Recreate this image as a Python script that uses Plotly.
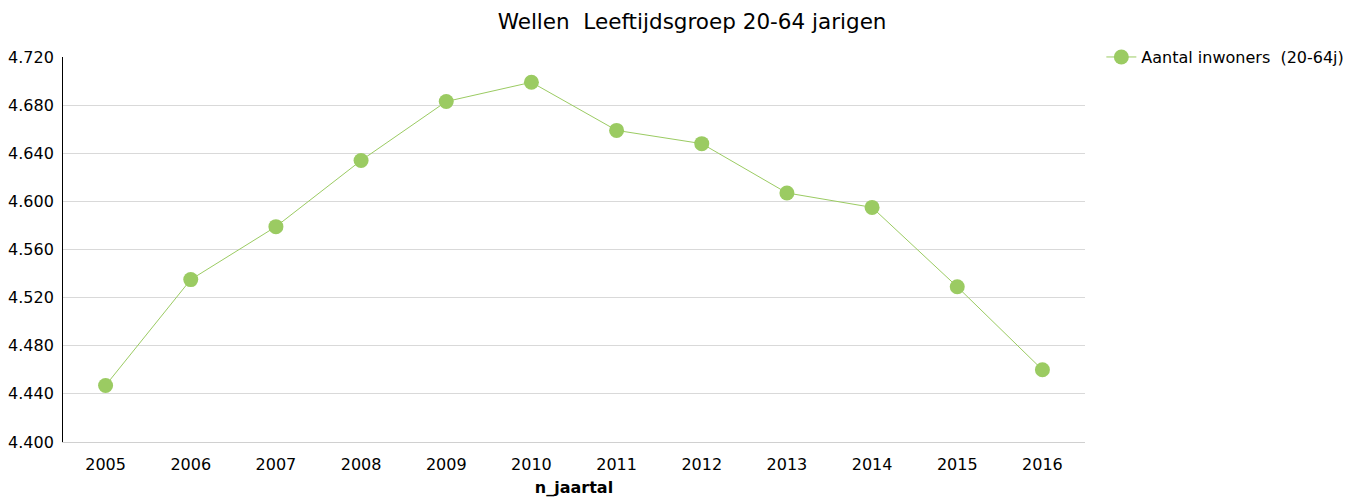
import plotly.graph_objects as go

FONT = "Tahoma, Verdana, DejaVu Sans, sans-serif"
GREEN = "#9BCB62"

years = ["2005", "2006", "2007", "2008", "2009", "2010",
         "2011", "2012", "2013", "2014", "2015", "2016"]
inwoners = [4447, 4535, 4579, 4634, 4683, 4699, 4659, 4648, 4607, 4595, 4529, 4460]
y_ticks = [4400, 4440, 4480, 4520, 4560, 4600, 4640, 4680, 4720]

fig = go.Figure()
fig.add_trace(go.Scatter(
    x=years,
    y=inwoners,
    mode="lines+markers",
    name="Aantal inwoners  (20-64j)",
    line=dict(color=GREEN, width=1),
    marker=dict(color=GREEN, size=15),
))

# page body has an 8px margin, so the figure is sized to fit the window
fig.update_layout(
    width=1344,
    height=489,
    separators=",.",
    title=dict(text="Wellen  Leeftijdsgroep 20-64 jarigen", x=0.509, xanchor="center",
               yref="container", y=0.972, yanchor="middle",
               font=dict(family=FONT, size=21.5, color="#000000")),
    font=dict(family=FONT, size=16, color="#000000"),
    plot_bgcolor="white",
    paper_bgcolor="white",
    margin=dict(l=55, r=267, t=49, b=55, autoexpand=False),
    showlegend=True,
    legend=dict(x=1.016, xanchor="left", y=1.044, yanchor="top",
                font=dict(family=FONT, size=16, color="#000000")),
)
fig.update_xaxes(
    type="category",
    range=[-0.5, len(years) - 0.5],
    automargin=False,
    showgrid=False,
    showline=True,
    linecolor="#d0d0d0",
    linewidth=1,
    ticks="outside",
    ticklen=8,
    tickcolor="white",
    tickfont=dict(family=FONT, size=16),
    title=dict(text="<b>n_jaartal</b>", font=dict(family=FONT, size=16), standoff=8),
)
fig.update_yaxes(
    range=[4400, 4720],
    tickvals=y_ticks,
    tickformat=",d",
    automargin=False,
    showgrid=True,
    gridcolor="#d9d9d9",
    gridwidth=1,
    zeroline=False,
    showline=True,
    linecolor="#000000",
    linewidth=1,
    ticks="outside",
    ticklen=5,
    tickcolor="white",
    tickfont=dict(family=FONT, size=16),
)

fig.write_html("out.html")
